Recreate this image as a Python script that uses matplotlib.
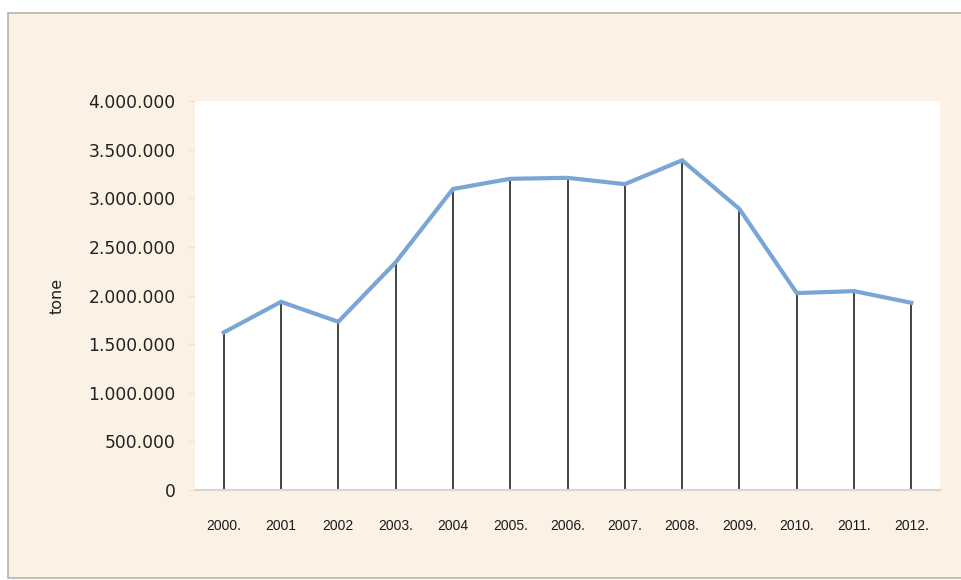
import matplotlib
matplotlib.use("Agg")
import matplotlib.pyplot as plt
from matplotlib.patches import Rectangle
from matplotlib.ticker import FuncFormatter

years = ["2000.", "2001", "2002", "2003.", "2004", "2005.", "2006.",
         "2007.", "2008.", "2009.", "2010.", "2011.", "2012."]
tone = [1620000, 1935000, 1730000, 2340000, 3095000, 3200000, 3210000,
        3145000, 3390000, 2890000, 2025000, 2045000, 1925000]

W, H = 962, 580
fig = plt.figure(figsize=(W / 100, H / 100), dpi=100, facecolor="white")

# beige chart frame, behind the axes
fig.patches.append(Rectangle((8 / W, 2 / H), (W - 8) / W, (H - 15) / H,
                             transform=fig.transFigure, facecolor="#fbf1e4",
                             edgecolor="#b8b4ae", linewidth=1.2, zorder=-5))

ax = fig.add_axes([195 / W, 1 - 490 / H, 745 / W, 389 / H])
ax.set_facecolor("white")

x = list(range(len(years)))
ax.vlines(x, 0, tone, color="#111111", linewidth=1.1, zorder=2)
ax.plot(x, tone, color="#7aa6d6", linewidth=3, solid_joinstyle="miter", zorder=3)

ax.set_xlim(-0.5, len(years) - 0.5)
ax.set_ylim(0, 4000000)
ax.set_yticks(range(0, 4000001, 500000))
ax.yaxis.set_major_formatter(FuncFormatter(lambda v, p: f"{int(v):,}".replace(",", ".")))
ax.set_xticks(x)
ax.set_xticklabels(years, fontsize=10, family="Liberation Sans", color="#1a1a1a")
ax.tick_params(axis="x", length=0, pad=21)
ax.tick_params(axis="y", length=4, color="#e6e2dc", labelsize=12.3, pad=10,
               labelcolor="#222222")

for s in ["top", "right", "left"]:
    ax.spines[s].set_visible(False)
ax.spines["bottom"].set_color("#d8d6d2")
ax.spines["bottom"].set_linewidth(1.5)

ax.set_ylabel("tone", fontsize=11.5, labelpad=17, color="#222222")

fig.savefig("out.png", dpi=100, facecolor="white")
